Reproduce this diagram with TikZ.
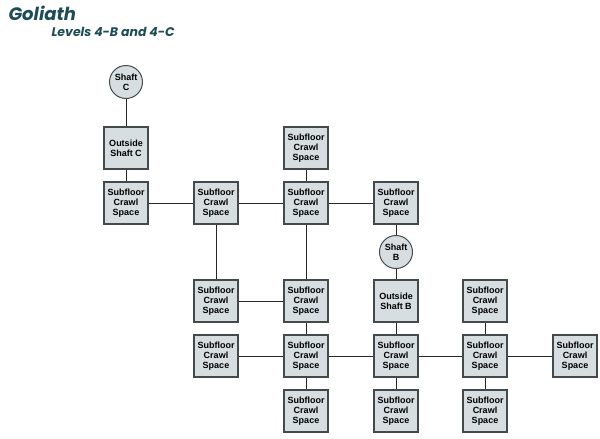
\documentclass[tikz,border=0pt]{standalone}
\usepackage{fontspec}
\setmainfont{Liberation Sans}
\newfontfamily\titlefont{Poppins}
\definecolor{boxfill}{HTML}{D6DEE2}
\definecolor{boxline}{HTML}{44494C}
\definecolor{titleteal}{HTML}{1D4C57}

\begin{document}
\begin{tikzpicture}[x = 1pt, y = -1pt,
	room/.style = {draw = boxline, line width = 1.1pt, fill = boxfill, minimum width = 44pt, minimum height = 42pt, inner sep = 0pt, align = center, font = \fontsize{9}{10}\selectfont\bfseries},
	shaft/.style = {circle, draw = boxline, line width = 1pt, fill = boxfill, minimum size = 33pt, inner sep = 0pt, align = center, font = \fontsize{9}{10}\selectfont\bfseries},
	link/.style = {draw = black!85, line width = 1pt}]
	\useasboundingbox (0,0) rectangle (600,439);

	\node[anchor = base west, text = titleteal, font = \titlefont\fontsize{18}{20}\selectfont\bfseries\itshape] (title) at (5,20) {Goliath};
	\node[anchor = base west, text = titleteal, font = \titlefont\fontsize{12.5}{15}\selectfont\bfseries\itshape] (subtitle) at (48,36) {Levels 4-B and 4-C};

	% shafts
	\node[shaft] (ShC) at (126,82) {Shaft\\C};
	\node[shaft] (ShB) at (396,252) {Shaft\\B};

	% rooms
	\node[room] (OutC) at (126,148) {Outside\\Shaft C};
	\node[room] (OutB) at (396,301) {Outside\\Shaft B};
	\node[room] (S12) at (126,203) {Subfloor\\Crawl\\Space};
	\node[room] (S22) at (216,203) {Subfloor\\Crawl\\Space};
	\node[room] (S31) at (306,148) {Subfloor\\Crawl\\Space};
	\node[room] (S32) at (306,203) {Subfloor\\Crawl\\Space};
	\node[room] (S42) at (396,203) {Subfloor\\Crawl\\Space};
	\node[room] (S23) at (216,301) {Subfloor\\Crawl\\Space};
	\node[room] (S33) at (306,301) {Subfloor\\Crawl\\Space};
	\node[room] (S53) at (485,301) {Subfloor\\Crawl\\Space};
	\node[room] (S24) at (216,356) {Subfloor\\Crawl\\Space};
	\node[room] (S34) at (306,356) {Subfloor\\Crawl\\Space};
	\node[room] (S44) at (396,356) {Subfloor\\Crawl\\Space};
	\node[room] (S54) at (485,356) {Subfloor\\Crawl\\Space};
	\node[room] (S64) at (575,356) {Subfloor\\Crawl\\Space};
	\node[room] (S35) at (306,411) {Subfloor\\Crawl\\Space};
	\node[room] (S45) at (396,411) {Subfloor\\Crawl\\Space};
	\node[room] (S55) at (485,411) {Subfloor\\Crawl\\Space};

	% passages
	\draw[link] (ShC) -- (OutC) -- (S12) -- (S22) -- (S32) -- (S42) -- (ShB) -- (OutB) -- (S44);
	\draw[link] (S31) -- (S32) -- (S33) -- (S34) -- (S35);
	\draw[link] (S22) -- (S23) -- (S33);
	\draw[link] (S24) -- (S34) -- (S44) -- (S54) -- (S64);
	\draw[link] (S44) -- (S45);
	\draw[link] (S53) -- (S54) -- (S55);
\end{tikzpicture}
\end{document}
